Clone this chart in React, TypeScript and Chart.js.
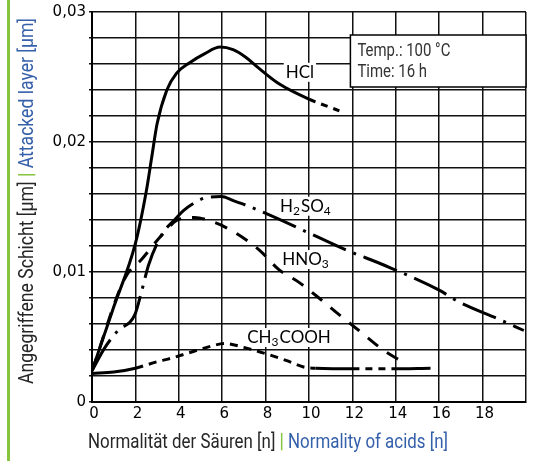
import { useEffect, useRef } from "react";
import { Chart, registerables } from "chart.js";

Chart.register(...registerables);

// ---- data (Normality [n] vs attacked layer [µm]) ----
const hclX = [0, 1, 2, 2.5, 2.75, 3, 3.45, 3.9, 4.5, 5.2, 5.9, 6.5, 7.1, 7.6, 8.6, 10, 11.4];
const hclY = [0.0024, 0.0073, 0.0122, 0.0162, 0.0188, 0.0214, 0.0240, 0.0253, 0.0261, 0.0268, 0.0273, 0.0271, 0.0265, 0.0258, 0.0245, 0.0233, 0.0224];

const h2so4X = [0, 0.6, 1.2, 1.97, 2.3, 2.6, 3.0, 3.35, 3.8, 4.2, 4.7, 5.2, 5.96, 6.5, 7.0, 8.3, 10.0, 11.7, 13.5, 16.0, 16.9, 18.7, 19.9];
const h2so4Y = [0.0024, 0.0042, 0.0055, 0.0067, 0.0086, 0.0105, 0.0122, 0.0132, 0.014, 0.0147, 0.0153, 0.0157, 0.0158, 0.0155, 0.0152, 0.0143, 0.013, 0.0117, 0.0105, 0.0086, 0.0077, 0.0064, 0.0055];

const hno3X = [0, 1.51, 2.3, 3.2, 3.94, 4.72, 5.5, 6.42, 7.7, 8.6, 9.54, 10.46, 11.4, 12.3, 13.5, 14.2];
const hno3Y = [0.0024, 0.0095, 0.011, 0.0128, 0.014, 0.0142, 0.0139, 0.0132, 0.0117, 0.0102, 0.0092, 0.008, 0.0067, 0.0055, 0.0039, 0.0032];

const ch3coohX = [0, 1, 2, 3, 3.5, 4.7, 5.5, 6.1, 7.0, 7.84, 8.94, 9.86, 10.3, 12.0, 13.8, 15.6];
const ch3coohY = [0.0022, 0.0023, 0.0026, 0.0031, 0.0033, 0.0039, 0.0043, 0.0045, 0.0042, 0.0038, 0.0032, 0.00265, 0.0026, 0.00255, 0.00255, 0.0026];

const xMin = 0;
const xMax = 20;
const xStep = 2;
const yMin = 0;
const yMax = 0.03;
const yStep = 0.002;

const xTitleDe = "Normalität der Säuren [n]";
const xTitleEn = "Normality of acids [n]";
const yTitleDe = "Angegriffene Schicht [µm]";
const yTitleEn = "Attacked layer [µm]";
const boxLines = ["Temp.: 100 °C", "Time: 16 h"];

const DARK = "#262626";
const BLUE = "#3560aa";
const GREEN = "#86c440";

function pts(xs: number[], ys: number[]) {
  return xs.map((x, i) => ({ x, y: ys[i] }));
}

type Part = [string, boolean];

function drawTitle(ctx: CanvasRenderingContext2D, x: number, y: number, width: number, rotate: boolean, de: string, en: string) {
  ctx.save();
  ctx.translate(x, y);
  if (rotate) ctx.rotate(-Math.PI / 2);
  const font = "21px Roboto";
  const bold = "bold 21px Roboto";
  ctx.font = font;
  const w1 = ctx.measureText(de + " ").width;
  const w3 = ctx.measureText(" " + en).width;
  ctx.font = bold;
  const w2 = ctx.measureText("|").width;
  const s = width / (w1 + w2 + w3);
  ctx.scale(s, 1);
  ctx.textBaseline = "alphabetic";
  ctx.textAlign = "left";
  ctx.font = font;
  ctx.fillStyle = DARK;
  ctx.fillText(de + " ", 0, 0);
  ctx.font = bold;
  ctx.fillStyle = GREEN;
  ctx.fillText("|", w1, 0);
  ctx.font = font;
  ctx.fillStyle = BLUE;
  ctx.fillText(" " + en, w1 + w2, 0);
  ctx.restore();
}

const curveLabels: { parts: Part[]; x: number; y: number }[] = [
  { parts: [["HCl", false]], x: 9.58, y: 0.0254 },
  { parts: [["H", false], ["2", true], ["SO", false], ["4", true]], x: 9.86, y: 0.0151 },
  { parts: [["HNO", false], ["3", true]], x: 9.86, y: 0.011 },
  { parts: [["CH", false], ["3", true], ["COOH", false]], x: 9.08, y: 0.005 },
];

const overlay = {
  id: "overlay",
  beforeDatasetsDraw(chart: any) {
    const { ctx, scales } = chart;
    const xs = scales.x;
    const ys = scales.y;
    ctx.save();
    // info box
    const bx0 = xs.getPixelForValue(12) - 2;
    const bx1 = xs.getPixelForValue(20);
    const by0 = ys.getPixelForValue(0.028) - 3;
    const by1 = ys.getPixelForValue(0.024) - 3;
    ctx.fillStyle = "#fff";
    ctx.fillRect(bx0, by0, bx1 - bx0, by1 - by0);
    ctx.strokeStyle = "#000";
    ctx.lineWidth = 1.5;
    ctx.strokeRect(bx0, by0, bx1 - bx0, by1 - by0);
    ctx.font = "19px Roboto";
    ctx.fillStyle = "#333";
    ctx.textBaseline = "alphabetic";
    ctx.textAlign = "left";
    const tw = ctx.measureText(boxLines[0]).width;
    const s = 93 / tw;
    ctx.save();
    ctx.translate(bx0 + 7, by0 + 21);
    ctx.scale(s, 1);
    ctx.fillText(boxLines[0], 0, 0);
    ctx.fillText(boxLines[1], 0, 21);
    ctx.restore();

    // curve labels
    const big = "17px Lato";
    const small = "12px Lato";
    for (const lab of curveLabels) {
      let total = 0;
      const widths: number[] = [];
      for (const [t, sub] of lab.parts) {
        ctx.font = sub ? small : big;
        const w = ctx.measureText(t).width + (sub ? 1 : 0);
        widths.push(w);
        total += w;
      }
      const cx = xs.getPixelForValue(lab.x);
      const cy = ys.getPixelForValue(lab.y);
      const left = cx - total / 2;
      ctx.fillStyle = "#fff";
      ctx.fillRect(left - 2, cy - 9, total + 4, 19);
      ctx.fillStyle = "#000";
      let px = left;
      lab.parts.forEach(([t, sub], i) => {
        ctx.font = sub ? small : big;
        ctx.fillText(t, px, cy + (sub ? 9 : 6));
        px += widths[i];
      });
    }
    ctx.restore();
  },
  afterDraw(chart: any) {
    const { ctx } = chart;
    ctx.save();
    ctx.fillStyle = GREEN;
    ctx.fillRect(7, 0, 3, 461);
    ctx.restore();
    drawTitle(ctx, 88, 448, 360, false, xTitleDe, xTitleEn);
    drawTitle(ctx, 33, 384, 366, true, yTitleDe, yTitleEn);
  },
};

export default function App() {
  const ref = useRef<HTMLCanvasElement | null>(null);
  useEffect(() => {
    if (!ref.current) return;
    const base = {
      borderColor: "#000",
      borderWidth: 3,
      pointRadius: 0,
      fill: false,
      cubicInterpolationMode: "monotone" as const,
    };
    const chart = new Chart(ref.current, {
      type: "line",
      data: {
        datasets: [
          {
            ...base,
            label: "HCl",
            data: pts(hclX, hclY),
            segment: { borderDash: (c: any) => (c.p0.parsed.x >= 9.99 ? [7, 6] : []) },
          },
          {
            ...base,
            label: "H2SO4",
            data: pts(h2so4X, h2so4Y),
            borderDash: [36, 8, 3, 8],
          },
          {
            ...base,
            label: "HNO3",
            data: pts(hno3X, hno3Y),
            borderDash: [13, 11],
          },
          {
            ...base,
            label: "CH3COOH",
            data: pts(ch3coohX, ch3coohY),
            segment: {
              borderDash: (c: any) => {
                const x = c.p0.parsed.x;
                if (x < 1.9) return [];
                if (x < 10.2) return [8, 6];
                if (x < 11.9) return [];
                if (x < 13.7) return [7, 6];
                return [];
              },
            },
          },
        ],
      },
      options: {
        responsive: false,
        animation: false,
        layout: { padding: { top: 11, right: 15, bottom: 0, left: 0 } },
        plugins: { legend: { display: false }, tooltip: { enabled: false } },
        scales: {
          x: {
            type: "linear",
            min: xMin,
            max: xMax,
            ticks: {
              stepSize: xStep,
              color: "#000",
              font: { family: "DejaVu Sans", size: 15 },
              padding: 3,
              labelOffset: 2,
              maxRotation: 0,
              callback: (v: any) => (v === xMax ? "" : String(v)),
            },
            grid: { color: "#111", lineWidth: 1.5, drawTicks: false },
            border: { color: "#000", width: 2 },
            afterFit: (s: any) => {
              s.height = 59;
            },
          },
          y: {
            type: "linear",
            min: yMin,
            max: yMax,
            ticks: {
              stepSize: yStep,
              autoSkip: false,
              color: "#000",
              font: { family: "DejaVu Sans", size: 15 },
              padding: 3,
              callback: (v: any) => {
                const n = Number(v);
                if (Math.abs(n * 100 - Math.round(n * 100)) > 1e-6) return "";
                return n === 0 ? "0" : n.toFixed(2).replace(".", ",");
              },
            },
            grid: { color: "#111", lineWidth: 1.5, tickLength: 3 },
            border: { color: "#000", width: 2 },
            afterFit: (s: any) => {
              s.width = 92;
            },
          },
        },
      },
      plugins: [overlay],
    });
    return () => chart.destroy();
  }, []);
  return (
    <div style={{ position: "absolute", left: 0, top: 0, width: 541, height: 461, background: "#fff" }}>
      <canvas ref={ref} width={541} height={461} style={{ display: "block" }} />
    </div>
  );
}
